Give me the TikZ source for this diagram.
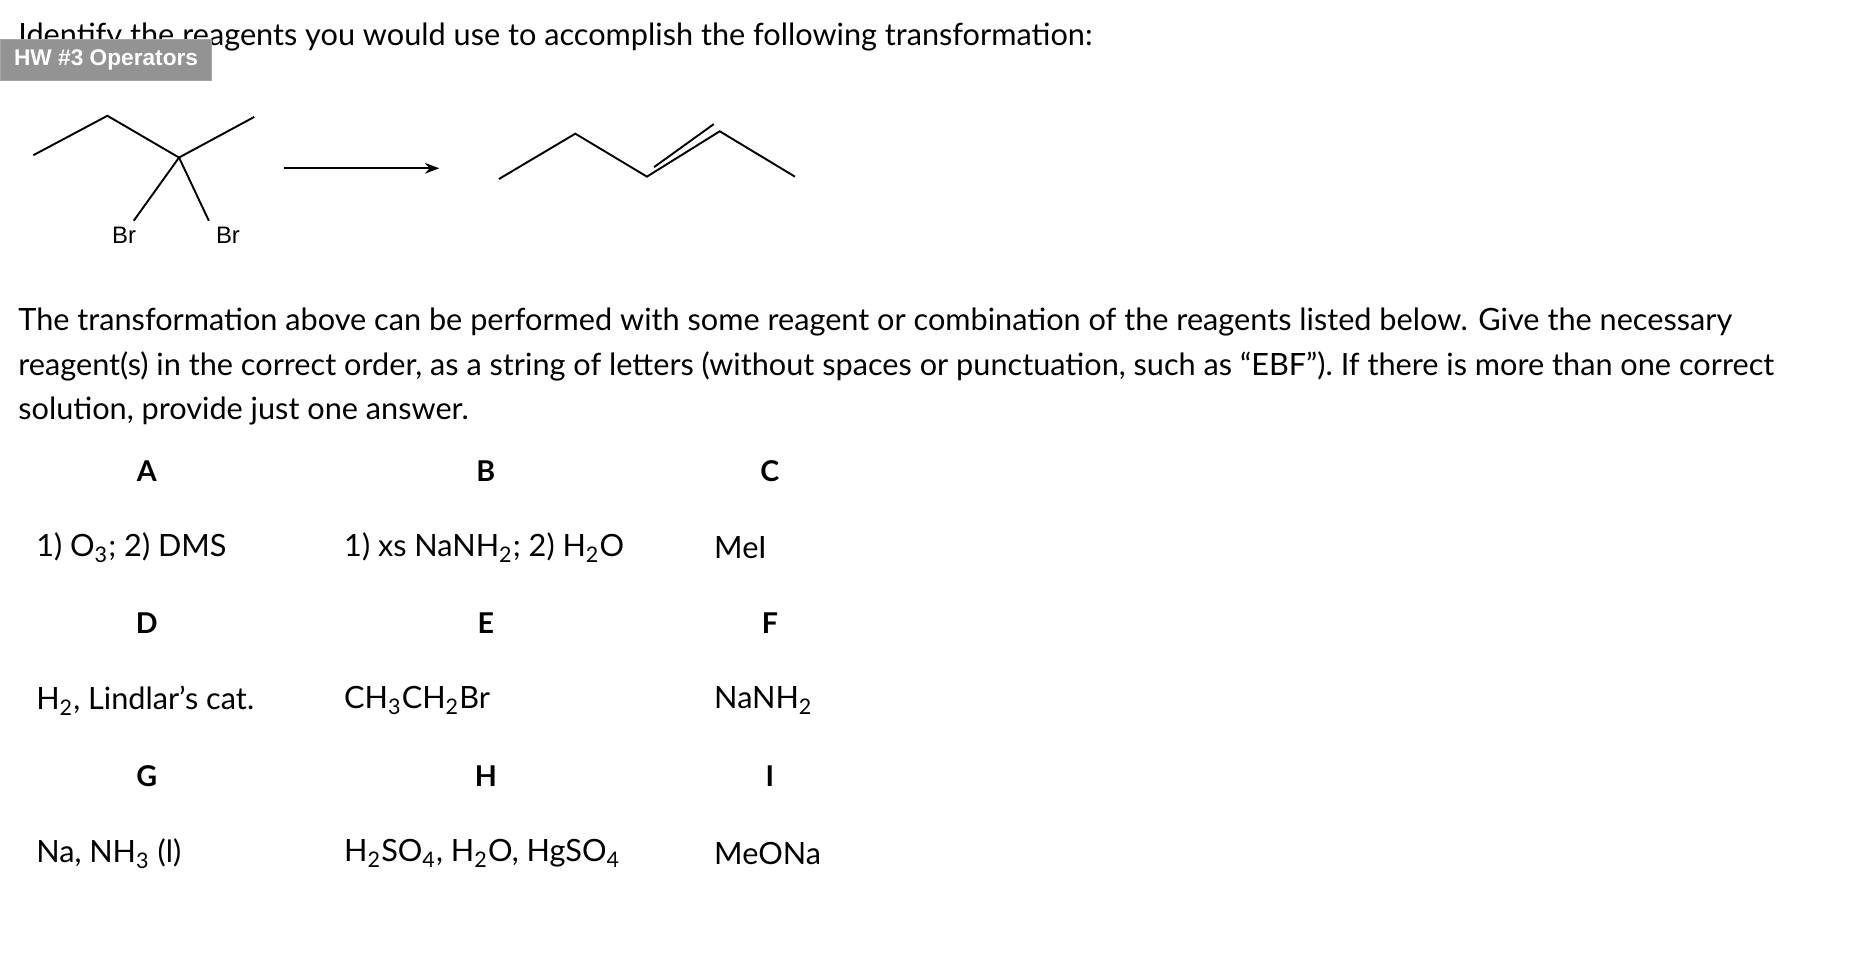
\documentclass[tikz,border=0pt]{standalone}
\usepackage{fontspec}
\setmainfont{Lato}
\newfontfamily\hwfont{Liberation Sans}
\usetikzlibrary{positioning,arrows.meta}
\tikzset{
  txt/.style={inner sep=0pt,anchor=west,font=\fontsize{12.85}{15}\selectfont},
  lett/.style={inner sep=0pt,font=\fontsize{12}{14}\selectfont\bfseries},
  bond/.style={line width=0.8pt},
  brlbl/.style={inner sep=0pt,font=\hwfont\fontsize{10}{12}\selectfont}
}
\begin{document}
\begin{tikzpicture}[x=0.5pt,y=-0.5pt]
\useasboundingbox[fill=white] (0,0) rectangle (1560,801);
% heading
\node[txt] (head) at (15,31) {Identify the reagents you would use to accomplish the following transformation:};
\node[fill=gray!85,draw=gray!70,anchor=north west,minimum width=88.5pt,minimum height=17pt,inner sep=0pt,
  text=white,font=\hwfont\bfseries\fontsize{9.5}{12}\selectfont] (hw) at (0,33) {HW \#3 Operators};
% reactant
\coordinate (r1) at (28,130); \coordinate (r2) at (90,97);
\coordinate (r3) at (150,132); \coordinate (r4) at (213,98);
\coordinate (b1) at (112,185); \coordinate (b2) at (175,185);
\draw[bond] (r1) -- (r2) -- (r3) -- (r4);
\draw[bond] (r3) -- (b1);
\draw[bond] (r3) -- (b2);
\node[brlbl] (br1) at (104,197) {Br};
\node[brlbl] (br2) at (191,197) {Br};
% arrow
\coordinate (a1) at (238,141); \coordinate (a2) at (368,141);
\draw[bond,-{Stealth[length=6pt,width=4.5pt]}] (a1) -- (a2);
% product
\coordinate (p1) at (418,150); \coordinate (p2) at (482,112);
\coordinate (p3) at (542,148); \coordinate (p4) at (603,110);
\coordinate (p5) at (666,148);
\draw[bond] (p1) -- (p2) -- (p3) -- (p4) -- (p5);
\draw[bond] (548,140) -- (598,104);
% paragraph
\node[txt] (par1) at (15,270) {The transformation above can be performed with some reagent or combination of the reagents listed below. Give the necessary};
\node[txt] (par2) at (15,307) {reagent(s) in the correct order, as a string of letters (without spaces or punctuation, such as “EBF”). If there is more than one correct};
\node[txt] (par3) at (15,344) {solution, provide just one answer.};
% reagent grid
\foreach \l/\x/\y in {A/123/395,B/407/395,C/645/395,D/123/522,E/407/522,F/645/522,G/123/650,H/407/650,I/645/650}
  \node[lett] (l\l) at (\x,\y) {\l};
\node[txt] (rA) at (30,459) {1) O\textsubscript{3}; 2) DMS};
\node[txt] (rB) at (288,459) {1) xs NaNH\textsubscript{2}; 2) H\textsubscript{2}O};
\node[txt] (rC) at (598,459) {MeI};
\node[txt] (rD) at (30,587) {H\textsubscript{2}, Lindlar’s cat.};
\node[txt] (rE) at (288,587) {CH\textsubscript{3}CH\textsubscript{2}Br};
\node[txt] (rF) at (598,587) {NaNH\textsubscript{2}};
\node[txt] (rG) at (30,715) {Na, NH\textsubscript{3} (l)};
\node[txt] (rH) at (288,715) {H\textsubscript{2}SO\textsubscript{4}, H\textsubscript{2}O, HgSO\textsubscript{4}};
\node[txt] (rI) at (598,715) {MeONa};
\end{tikzpicture}
\end{document}
